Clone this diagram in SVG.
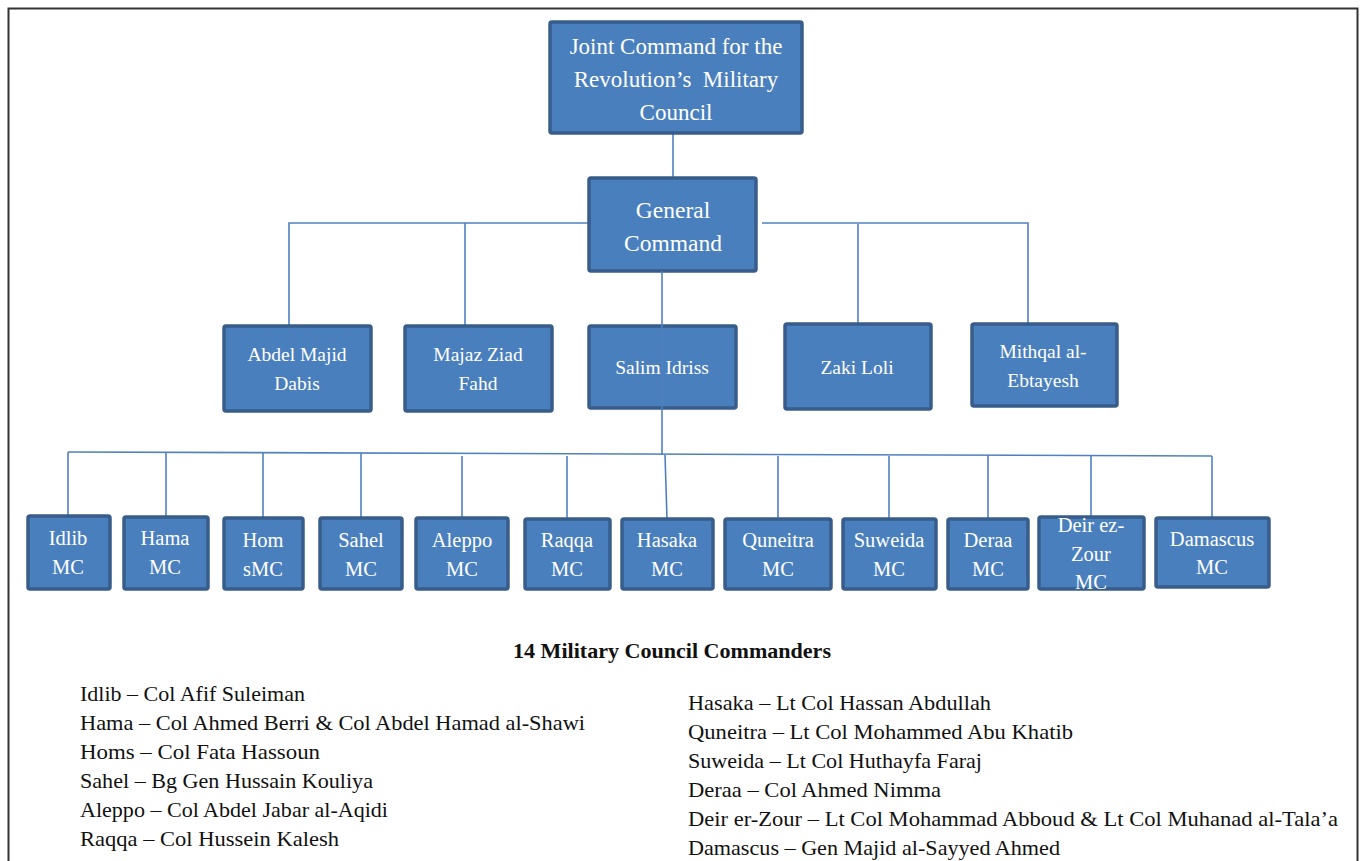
<svg xmlns="http://www.w3.org/2000/svg" width="1360" height="861" viewBox="0 0 1360 861">
<style>
.box{fill:#4a7fbe;stroke:#385d8a;stroke-width:3.5}
.lbl{font-family:"Liberation Serif",serif;fill:#ffffff;text-anchor:middle}
.s23{font-size:23px}
.s235{font-size:23.5px}
.s19{font-size:19.5px}
.s20{font-size:20.5px}
.con{stroke:#4f81bd;stroke-width:1.6;fill:none}
.list{font-family:"Liberation Serif",serif;font-size:21px;fill:#111111}
.head{font-family:"Liberation Serif",serif;font-size:21px;font-weight:bold;fill:#111111;text-anchor:middle}
</style>
<rect width="1360" height="861" fill="#ffffff"/>
<path d="M8.5,861 V8.5 H1357.5 V861" fill="none" stroke="#333333" stroke-width="2"/>
<g id="connectors">
<line class="con" x1="673" y1="133" x2="673" y2="178"/>
<path class="con" d="M589,223 H289 V325"/>
<line class="con" x1="465" y1="223" x2="465" y2="325"/>
<path class="con" d="M762,223 H1028 V323"/>
<line class="con" x1="858" y1="224" x2="858" y2="323"/>
<line class="con" x1="68" y1="452" x2="1212" y2="456"/>
<line class="con" x1="68" y1="452" x2="68" y2="515"/>
<line class="con" x1="166" y1="453" x2="166" y2="516"/>
<line class="con" x1="263" y1="453" x2="263" y2="518"/>
<line class="con" x1="361" y1="453" x2="361" y2="518"/>
<line class="con" x1="462" y1="456" x2="462" y2="518"/>
<line class="con" x1="567" y1="456" x2="567" y2="519"/>
<line class="con" x1="665" y1="455" x2="667" y2="519"/>
<line class="con" x1="778" y1="456" x2="778" y2="519"/>
<line class="con" x1="889" y1="456" x2="889" y2="519"/>
<line class="con" x1="988" y1="455" x2="988" y2="519"/>
<line class="con" x1="1091" y1="456" x2="1091" y2="517"/>
<line class="con" x1="1212" y1="456" x2="1212" y2="517"/>
</g>
<g id="n-joint"><rect class="box" x="550" y="22" width="252" height="111" rx="2"/>
<text class="lbl s23" x="676" y="54">Joint Command for the</text>
<text class="lbl s23" x="676" y="87" xml:space="preserve">Revolution’s  Military</text>
<text class="lbl s23" x="676" y="120">Council</text></g>
<g id="n-general"><rect class="box" x="589" y="178" width="167" height="93" rx="2"/>
<text class="lbl s235" x="673" y="218">General</text>
<text class="lbl s235" x="673" y="251">Command</text></g>
<g id="n-abdel"><rect class="box" x="224" y="326" width="147" height="85" rx="2"/>
<text class="lbl s19" x="297" y="361">Abdel Majid</text>
<text class="lbl s19" x="297" y="390">Dabis</text></g>
<g id="n-majaz"><rect class="box" x="405" y="326" width="147" height="85" rx="2"/>
<text class="lbl s19" x="478" y="361">Majaz Ziad</text>
<text class="lbl s19" x="478" y="390">Fahd</text></g>
<g id="n-salim"><rect class="box" x="589" y="326" width="147" height="82" rx="2"/>
<text class="lbl s19" x="662" y="374">Salim Idriss</text></g>
<g id="n-zaki"><rect class="box" x="785" y="324" width="146" height="85" rx="2"/>
<text class="lbl s19" x="857" y="374">Zaki Loli</text></g>
<g id="n-mithqal"><rect class="box" x="972" y="324" width="145" height="82" rx="2"/>
<text class="lbl s19" x="1043" y="358">Mithqal al-</text>
<text class="lbl s19" x="1043" y="387">Ebtayesh</text></g>
<line class="con" x1="662" y1="271" x2="662" y2="455"/>
<g id="n-idlib"><rect class="box" x="28" y="516" width="82" height="73" rx="2"/>
<text class="lbl s20" x="68" y="545">Idlib</text><text class="lbl s20" x="68" y="574">MC</text></g>
<g id="n-hama"><rect class="box" x="124" y="517" width="84" height="72" rx="2"/>
<text class="lbl s20" x="165" y="545">Hama</text><text class="lbl s20" x="165" y="574">MC</text></g>
<g id="n-homs"><rect class="box" x="224" y="518" width="79" height="71" rx="2"/>
<text class="lbl s20" x="263" y="547">Hom</text><text class="lbl s20" x="263" y="576">sMC</text></g>
<g id="n-sahel"><rect class="box" x="320" y="518" width="82" height="71" rx="2"/>
<text class="lbl s20" x="361" y="547">Sahel</text><text class="lbl s20" x="361" y="576">MC</text></g>
<g id="n-aleppo"><rect class="box" x="416" y="518" width="92" height="71" rx="2"/>
<text class="lbl s20" x="462" y="547">Aleppo</text><text class="lbl s20" x="462" y="576">MC</text></g>
<g id="n-raqqa"><rect class="box" x="525" y="519" width="85" height="70" rx="2"/>
<text class="lbl s20" x="567" y="547">Raqqa</text><text class="lbl s20" x="567" y="576">MC</text></g>
<g id="n-hasaka"><rect class="box" x="622" y="519" width="91" height="70" rx="2"/>
<text class="lbl s20" x="667" y="547">Hasaka</text><text class="lbl s20" x="667" y="576">MC</text></g>
<g id="n-quneitra"><rect class="box" x="725" y="519" width="106" height="70" rx="2"/>
<text class="lbl s20" x="778" y="547">Quneitra</text><text class="lbl s20" x="778" y="576">MC</text></g>
<g id="n-suweida"><rect class="box" x="843" y="519" width="93" height="70" rx="2"/>
<text class="lbl s20" x="889" y="547">Suweida</text><text class="lbl s20" x="889" y="576">MC</text></g>
<g id="n-deraa"><rect class="box" x="948" y="519" width="80" height="70" rx="2"/>
<text class="lbl s20" x="988" y="547">Deraa</text><text class="lbl s20" x="988" y="576">MC</text></g>
<g id="n-deir"><rect class="box" x="1039" y="517" width="105" height="72" rx="2"/>
<text class="lbl s20" x="1091" y="532">Deir ez-</text><text class="lbl s20" x="1091" y="561">Zour</text><text class="lbl s20" x="1091" y="589">MC</text></g>
<g id="n-damascus"><rect class="box" x="1156" y="518" width="113" height="69" rx="2"/>
<text class="lbl s20" x="1212" y="546">Damascus</text><text class="lbl s20" x="1212" y="574">MC</text></g>
<text class="head" x="672" y="658" textLength="318" lengthAdjust="spacingAndGlyphs">14 Military Council Commanders</text>
<g id="list-left">
<text class="list" x="80" y="701" textLength="225" lengthAdjust="spacingAndGlyphs">Idlib – Col Afif Suleiman</text>
<text class="list" x="80" y="730" textLength="505" lengthAdjust="spacingAndGlyphs">Hama – Col Ahmed Berri &amp; Col Abdel Hamad al-Shawi</text>
<text class="list" x="80" y="759" textLength="240" lengthAdjust="spacingAndGlyphs">Homs – Col Fata Hassoun</text>
<text class="list" x="80" y="788" textLength="293" lengthAdjust="spacingAndGlyphs">Sahel – Bg Gen Hussain Kouliya</text>
<text class="list" x="80" y="817" textLength="308" lengthAdjust="spacingAndGlyphs">Aleppo – Col Abdel Jabar al-Aqidi</text>
<text class="list" x="80" y="846" textLength="259" lengthAdjust="spacingAndGlyphs">Raqqa – Col Hussein Kalesh</text>
</g>
<g id="list-right">
<text class="list" x="688" y="710" textLength="303" lengthAdjust="spacingAndGlyphs">Hasaka – Lt Col Hassan Abdullah</text>
<text class="list" x="688" y="739" textLength="385" lengthAdjust="spacingAndGlyphs">Quneitra – Lt Col Mohammed Abu Khatib</text>
<text class="list" x="688" y="768" textLength="294" lengthAdjust="spacingAndGlyphs">Suweida – Lt Col Huthayfa Faraj</text>
<text class="list" x="688" y="797" textLength="253" lengthAdjust="spacingAndGlyphs">Deraa – Col Ahmed Nimma</text>
<text class="list" x="688" y="826" textLength="650" lengthAdjust="spacingAndGlyphs">Deir er-Zour – Lt Col Mohammad Abboud &amp; Lt Col Muhanad al-Tala’a</text>
<text class="list" x="688" y="855" textLength="372" lengthAdjust="spacingAndGlyphs">Damascus – Gen Majid al-Sayyed Ahmed</text>
</g>
</svg>
